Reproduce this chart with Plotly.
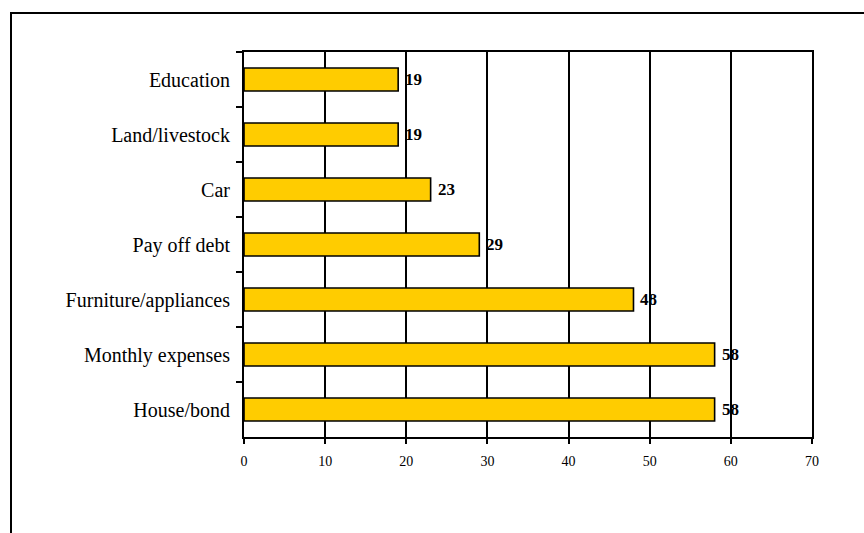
import plotly.graph_objects as go

# Uses of money, listed top to bottom
categories = ["Education", "Land/livestock", "Car", "Pay off debt",
              "Furniture/appliances", "Monthly expenses", "House/bond"]
values = [19, 19, 23, 29, 48, 58, 58]
x_ticks = [0, 10, 20, 30, 40, 50, 60, 70]

W, H = 864, 533
L, R, T, B = 244, 52, 52, 96
pw, ph = W - L - R, H - T - B

fig = go.Figure()
fig.add_trace(go.Bar(
    x=values, y=categories, orientation="h",
    marker=dict(color="#FFCC00", line=dict(color="black", width=1.6)),
    width=0.42, hoverinfo="x+y",
))

# Value labels just past the end of each bar
for v, c in zip(values, categories):
    fig.add_annotation(x=v, y=c, text=str(v), showarrow=False,
                       xanchor="left", xshift=5,
                       font=dict(family="Liberation Serif", size=17, color="black", weight="bold"))

# Outer chart frame (right and bottom edges run past the page)
fig.add_shape(type="rect", xref="paper", yref="paper",
              x0=(11 - L) / pw, x1=(W + 20 - L) / pw,
              y0=-(B + 20) / ph, y1=1 + (T - 13) / ph,
              line=dict(color="black", width=2), layer="above")

fig.update_layout(
    width=W, height=H,
    margin=dict(l=L, r=R, t=T, b=B),
    paper_bgcolor="white", plot_bgcolor="white",
    showlegend=False,
    font=dict(family="Liberation Serif", color="black"),
    xaxis=dict(range=[0, 70], tickvals=x_ticks, showgrid=True,
               gridcolor="black", gridwidth=2, zeroline=False,
               showline=True, linecolor="black", linewidth=2, mirror=True,
               ticks="outside", ticklen=5, tickwidth=2, tickcolor="black",
               tickfont=dict(size=14, color="black"), ticklabelstandoff=5),
    yaxis=dict(autorange="reversed", showgrid=False, zeroline=False,
               showline=True, linecolor="black", linewidth=2, mirror=True,
               ticks="outside", ticklen=6, tickwidth=2, tickcolor="black",
               tickson="boundaries",
               tickfont=dict(size=20, color="black"), ticklabelstandoff=8),
)

fig.write_html("out.html")
